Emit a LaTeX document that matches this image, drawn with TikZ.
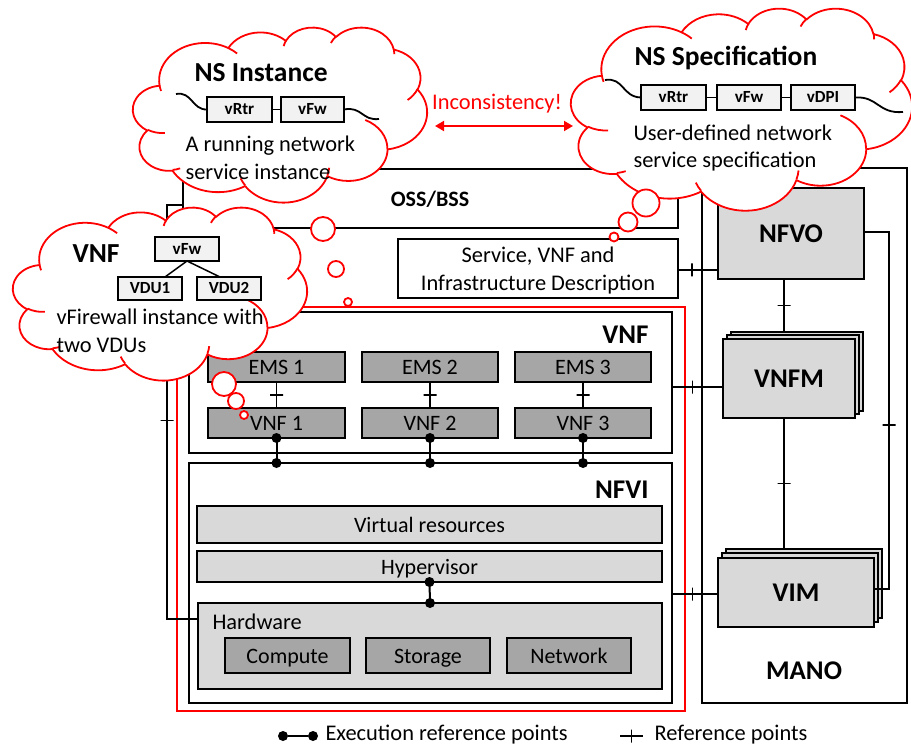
\documentclass[tikz,border=0pt]{standalone}
\usepackage{fontspec}
\setmainfont{Carlito}
\usetikzlibrary{arrows.meta}
\definecolor{redline}{RGB}{255,0,0}
\definecolor{lgray}{RGB}{217,217,217}
\definecolor{dgray}{RGB}{166,166,166}
\definecolor{pale}{RGB}{242,242,242}
\tikzset{
  body/.style={font=\fontsize{22.4}{27.5}\selectfont},
  heading/.style={font=\fontsize{27}{30}\selectfont\bfseries},
  cloudhead/.style={font=\fontsize{27.5}{30}\selectfont\bfseries},
  frame/.style={draw, line width=1.5pt, inner sep=0pt, outer sep=0pt},
  heavy/.style={draw, line width=2.2pt, inner sep=0pt, outer sep=0pt},
  lightbox/.style={frame, fill=lgray, font=\fontsize{22}{24}\selectfont, text height=16pt, text depth=1pt},
  darkbox/.style={frame, fill=dgray, font=\fontsize{22}{24}\selectfont, text height=16pt, text depth=1pt},
  capsbox/.style={frame, fill=lgray, heading, text height=17.4pt, text depth=0pt},
  tinybox/.style={frame, fill=pale, font=\fontsize{17}{18}\selectfont\bfseries, text height=11pt, text depth=0pt},
  link/.style={line width=1.5pt},
  vtick/.style={draw, line width=1.5pt, minimum width=0pt, minimum height=13pt, inner sep=0pt, outer sep=0pt},
  htick/.style={draw, line width=1.5pt, minimum width=13pt, minimum height=0pt, inner sep=0pt, outer sep=0pt},
  execdot/.style={circle, fill=black, minimum size=10pt, inner sep=0pt},
  exec/.style={line width=2pt},
  cloudline/.style={draw=redline, line width=1.8pt, line join=round},
  bubble/.style={circle, draw=redline, fill=white, line width=1.8pt, inner sep=0pt},
}
% box from its corners: style, x1, y1, x2, y2, name, text
\newcommand\mkbox[7]{%
  \node[#1, minimum width={#4-#2}, minimum height={#5-#3}] (#6)
    at ({(#2+#4)/2},{(#3+#5)/2}) {#7};}

% Cloud outline on a 432 x 432 grid (y downwards). Each arc is given by its
% radii and by the start and sweep of the ray angle; store the matching
% parametric start angle and sweep.
\newcommand\ooarc[5]{%
  \pgfmathsetmacro\ooa{atan2((#2)*sin(#4),(#3)*cos(#4))}%
  \pgfmathsetmacro\oob{atan2((#2)*sin(#4+#5),(#3)*cos(#4+#5))}%
  \pgfmathsetmacro\ood{\oob-\ooa}%
  \pgfmathsetmacro\ood{\ood-360*round((\ood-(#5))/360)}%
  \expandafter\xdef\csname oots#1\endcsname{\ooa}%
  \expandafter\xdef\csname oodt#1\endcsname{\ood}%
}
\ooarc{A}{67.53}{91.90}{-190.4875}{123.7805}
\ooarc{B}{53.33}{72.67}{-144.1024}{89.9452}
\ooarc{C}{43.65}{59.45}{-145.8079}{99.7230}
\ooarc{D}{48.57}{65.95}{-130.9861}{117.2417}
\ooarc{E}{53.33}{72.73}{-78.7089}{109.0269}
\ooarc{F}{67.75}{92.20}{-46.2673}{130.2690}
\ooarc{G}{57.85}{78.67}{0.6250}{114.0333}
\ooarc{H}{67.52}{92.15}{22.4516}{115.1726}
\ooarc{I}{77.20}{105.43}{66.2426}{75.7110}
\ooarc{J}{43.60}{59.18}{-274.9421}{146.7356}
\ooarc{K}{43.45}{59.45}{-246.8285}{152.5189}
\ooarc{a}{43.45}{59.45}{86.7420}{26.4295}
\ooarc{b}{43.60}{59.18}{73.6105}{11.4475}
\ooarc{c}{67.52}{92.15}{137.6242}{14.0811}
\ooarc{d}{67.52}{92.15}{6.4533}{15.9984}
\ooarc{e}{57.85}{78.67}{-70.2924}{70.9174}
\ooarc{f}{53.33}{72.73}{30.3180}{27.7515}
\ooarc{g}{48.57}{65.95}{-13.7443}{14.8589}
\ooarc{h}{48.57}{65.95}{-149.1815}{18.1954}
\ooarc{i}{43.65}{59.45}{-163.4943}{17.6864}
\ooarc{j}{67.53}{91.90}{-66.7070}{12.3194}
\ooarc{k}{67.53}{91.90}{157.6544}{11.8582}
\newcommand\puff[3]{arc[x radius=#2, y radius=#3,
  start angle=\csname oots#1\endcsname, delta angle=\csname oodt#1\endcsname]}
\newcommand\cloudoutline{(39,143.70) \puff{A}{67.53}{91.90} \puff{B}{53.33}{72.67}
  \puff{C}{43.65}{59.45} \puff{D}{48.57}{65.95} \puff{E}{53.33}{72.73}
  \puff{F}{67.75}{92.20} \puff{G}{57.85}{78.67} \puff{H}{67.52}{92.15}
  \puff{I}{77.20}{105.43} \puff{J}{43.60}{59.18} \puff{K}{43.45}{59.45} -- cycle}
\newcommand\cloudcreases{
  (46.93,261.77) \puff{a}{43.45}{59.45}
  (69.28,348.99) \puff{b}{43.60}{59.18}
  (164.78,390.90) \puff{c}{67.52}{92.15}
  (288.27,347.51) \puff{d}{67.52}{92.15}
  (341.29,229.54) \puff{e}{57.85}{78.67}
  (417.98,153.54) \puff{f}{53.33}{72.73}
  (383.24,54.26) \puff{g}{48.57}{65.95}
  (290.78,39.52) \puff{h}{48.57}{65.95}
  (221.41,47.20) \puff{i}{43.65}{59.45}
  (140.00,51.92) \puff{j}{67.53}{91.90}
  (41.27,157.89) \puff{k}{67.53}{91.90}}
% cloud: left, top, x scale, y scale
\newcommand\thoughtcloud[4]{%
  \begin{scope}[shift={(#1,#2)}, x=#3pt, y=-#4pt]
    \fill[white] \cloudoutline;
    \draw[cloudline] \cloudoutline;
    \draw[cloudline] \cloudcreases;
  \end{scope}}

\begin{document}
\begin{tikzpicture}[x=1pt,y=-1pt]
\useasboundingbox (0,0) rectangle (911,746);

% ---------- OSS/BSS and descriptors ----------
\mkbox{frame}{183}{169}{678}{228}{oss}{}
\node[font=\fontsize{22}{26}\selectfont\bfseries] (osslbl) at (430,199) {OSS/BSS};
\mkbox{frame, line width=2.6pt}{398}{239}{678}{298}{svc}{}
\node[body, align=center] (svctx) at (538,270.5) {Service, VNF and\\Infrastructure Description};

% ---------- running instance (red frame) ----------
\mkbox{draw=redline, line width=2.2pt, inner sep=0pt}{177}{307}{685}{711}{inst}{}

% VNF layer
\mkbox{heavy}{189}{312}{672}{453}{vnfbox}{}
\node[heading, anchor=east] (vnflbl) at (652,335) {VNF};
\mkbox{darkbox}{208}{352}{345}{382}{ems1}{EMS 1}
\mkbox{darkbox}{362}{352}{498}{382}{ems2}{EMS 2}
\mkbox{darkbox}{515}{352}{651}{382}{ems3}{EMS 3}
\mkbox{darkbox}{208}{408}{345}{438}{vnf1}{VNF 1}
\mkbox{darkbox}{362}{408}{498}{438}{vnf2}{VNF 2}
\mkbox{darkbox}{515}{408}{651}{438}{vnf3}{VNF 3}

% NFVI layer
\mkbox{heavy}{189}{463}{672}{703}{nfvi}{}
\node[heading, anchor=east] (nfvilbl) at (652,490) {NFVI};
\mkbox{lightbox}{197}{506}{662}{543}{virt}{Virtual resources}
\mkbox{lightbox}{197}{551}{662}{582}{hyp}{Hypervisor}
\mkbox{lightbox}{198}{603}{662}{689}{hw}{}
\node[body, anchor=west] (hwlbl) at (209,622) {Hardware};
\mkbox{darkbox}{225}{638}{350}{673}{comp}{Compute}
\mkbox{darkbox}{366}{638}{490}{673}{stor}{Storage}
\mkbox{darkbox}{507}{638}{631}{673}{netw}{Network}

% EMS -- VNF reference points, VNF -- NFVI execution points
\foreach \i in {1,2,3}{
  \draw[link] (ems\i.south) -- (vnf\i.north) node[midway, htick] {};
  \draw[exec] (vnf\i.south) -- (vnf\i.south |- nfvi.north);
  \node[execdot] at (vnf\i.south) {};
  \node[execdot] at (vnf\i.south |- nfvi.north) {};
}
\draw[exec] (hyp.south) -- (hw.north);
\node[execdot] (hypdot) at (hyp.south) {};
\node[execdot] (hwdot) at (hw.north) {};

% OSS/BSS -- hardware
\coordinate (lk) at (167,205);
\coordinate (lb) at (167,619);
\draw[link] (oss.west |- lk) -- (lk) -- (lb) node[pos=.52, htick] {} -- (hw.west |- lb);

% ---------- MANO ----------
\mkbox{heavy, line width=1.8pt}{702}{168}{907}{703}{mano}{}
\node[heading] (manolbl) at (804,671) {MANO};
\mkbox{capsbox}{718}{188}{864}{279}{nfvo}{NFVO}
\mkbox{frame, fill=lgray}{731}{332}{863}{411}{vnfmc}{}
\mkbox{frame, fill=lgray}{727}{335}{859}{414}{vnfmb}{}
\mkbox{capsbox}{723}{339}{855}{418}{vnfm}{VNFM}
\mkbox{frame, fill=lgray}{726}{549}{882}{618}{vimc}{}
\mkbox{frame, fill=lgray}{722}{553}{878}{622}{vimb}{}
\mkbox{capsbox}{718}{558}{874}{627}{vim}{VIM}

\coordinate (mx) at (784,0);
\draw[link] (nfvo.south -| mx) -- (vnfmc.north -| mx) node[midway, htick] {};
\draw[link] (vnfm.south -| mx) -- (vimc.north -| mx) node[midway, htick] {};
\coordinate (rr) at (889,0);
\draw[link] (nfvo.east |- 0,232) -- (rr |- 0,232) -- (rr |- 0,589) node[pos=.54, htick] {} -- (vim.east |- 0,589);

\coordinate (y1) at (0,270);
\coordinate (y2) at (0,387);
\coordinate (y3) at (0,594);
\draw[link] (svc.east |- y1) -- (nfvo.west |- y1) node[pos=.35, vtick] {};
\draw[link] (vnfbox.east |- y2) -- (vnfm.west |- y2) node[pos=.4, vtick] {};
\draw[link] (nfvi.east |- y3) -- (vim.west |- y3) node[pos=.45, vtick] {};

% ---------- thought clouds ----------
\thoughtcloud{133}{27}{0.6806}{0.4051}
\thoughtcloud{13}{207}{0.6806}{0.4005}
\thoughtcloud{571}{8}{0.7894}{0.4676}

% bubbles
\node[bubble, minimum size=24pt] (b1) at (323,229) {};
\node[bubble, minimum size=16pt] (b2) at (336,269) {};
\node[bubble, minimum size=8pt] (b3) at (348,302) {};
\node[bubble, minimum size=27pt] (s1) at (646,203) {};
\node[bubble, minimum size=19pt] (s2) at (628,222) {};
\node[bubble, minimum size=9pt] (s3) at (614,237) {};
\node[bubble, minimum size=24pt] (v1) at (224,384) {};
\node[bubble, minimum size=16pt] (v2) at (236,401) {};
\node[bubble, minimum size=8pt] (v3) at (244,415) {};

% NS instance
\node[cloudhead, anchor=west] (nsit) at (191,73) {NS Instance};
\mkbox{tinybox}{207}{97}{272}{122}{ir}{vRtr}
\mkbox{tinybox}{281}{97}{344}{122}{if}{vFw}
\draw[link] (ir.east) -- (if.west);
\coordinate (iw1) at (176,94);
\coordinate (iw2) at (379,119);
\draw[link, line width=1.8pt] (iw1) .. controls (192,91) and (192,110) .. (ir.west);
\draw[link, line width=1.8pt] (if.east) .. controls (362,106) and (362,121) .. (iw2);
\node[body, anchor=west, align=left] (nsitx) at (182,158) {A running network\\service instance};

% NS specification
\node[cloudhead, anchor=west] (nsst) at (631,58) {NS Specification};
\mkbox{tinybox}{641}{85}{706}{110}{sr}{vRtr}
\mkbox{tinybox}{717}{85}{781}{110}{sf}{vFw}
\mkbox{tinybox}{791}{85}{855}{110}{sd}{vDPI}
\draw[link] (sr.east) -- (sf.west);
\draw[link] (sf.east) -- (sd.west);
\coordinate (sw1) at (605,80);
\coordinate (sw2) at (903,112);
\draw[link, line width=1.8pt] (sw1) .. controls (624,77) and (622,97) .. (sr.west);
\draw[link, line width=1.8pt] (sd.east) .. controls (878,96) and (878,114) .. (sw2);
\node[body, anchor=west, align=left] (nsstx) at (630,148) {User-defined network\\service specification};

% VNF descriptor
\node[cloudhead, anchor=west] (vnfct) at (69,254) {VNF};
\mkbox{tinybox}{155}{237}{219}{261}{cf}{vFw}
\mkbox{tinybox}{118}{277}{182}{300}{cu1}{VDU1}
\mkbox{tinybox}{197}{277}{261}{300}{cu2}{VDU2}
\draw[link] (cf.south) -- (cu1.north -| 165,0);
\draw[link] (cf.south) -- (cu2.north -| 220,0);
\node[body, anchor=west, align=left] (vnfctx) at (53,331) {vFirewall instance with\\two VDUs};

% inconsistency
\coordinate (ia) at (435,126);
\coordinate (ib) at (573,126);
\draw[redline, line width=1.8pt, {Triangle[length=9pt,width=10pt]}-{Triangle[length=9pt,width=10pt]}] (ia) -- (ib);
\node[body, text=redline] (inc) at (497,104) {Inconsistency!};

% ---------- legend ----------
\node[execdot] (ld1) at (283,736) {};
\node[execdot] (ld2) at (313,736) {};
\draw[exec] (ld1) -- (ld2);
\node[body, anchor=west] (ldt1) at (322,735) {Execution reference points};
\coordinate (lp1) at (620,736);
\coordinate (lp2) at (643,736);
\draw[link] (lp1) -- (lp2) node[midway, vtick] {};
\node[body, anchor=west] (ldt2) at (651,735) {Reference points};
\end{tikzpicture}
\end{document}
